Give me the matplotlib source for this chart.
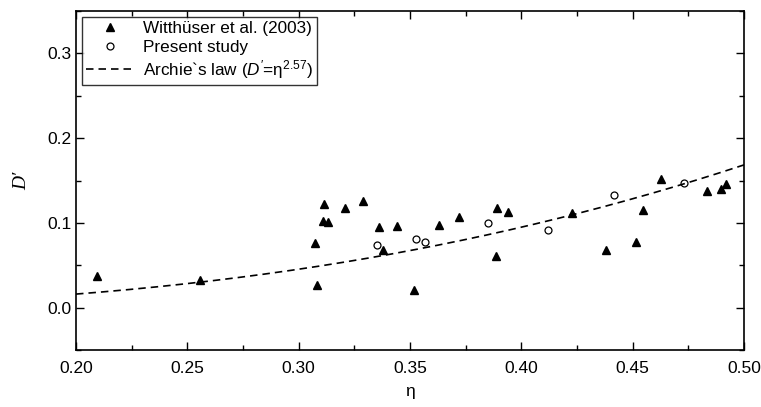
import numpy as np
import matplotlib
matplotlib.use("Agg")
import matplotlib.pyplot as plt
from matplotlib.ticker import MultipleLocator

# Witthüser et al. (2003)
w_eta = [0.2096, 0.2555, 0.3072, 0.3082, 0.3112, 0.3108, 0.3132, 0.3209, 0.3290,
         0.3359, 0.3380, 0.3440, 0.3519, 0.3630, 0.3720, 0.3889, 0.3887, 0.3940,
         0.4229, 0.4379, 0.4516, 0.4547, 0.4627, 0.4836, 0.4896, 0.4917]
w_D = [0.0368, 0.0330, 0.0765, 0.0266, 0.1223, 0.1019, 0.1007, 0.1176, 0.1254,
       0.0956, 0.0682, 0.0965, 0.0212, 0.0976, 0.1074, 0.1176, 0.0612, 0.1125,
       0.1118, 0.0682, 0.0776, 0.1156, 0.1513, 0.1372, 0.1400, 0.1462]

# Present study
p_eta = [0.3352, 0.3527, 0.3569, 0.3849, 0.4121, 0.4417, 0.4732]
p_D = [0.0741, 0.0807, 0.0772, 0.0995, 0.0917, 0.1325, 0.1474]

# Archie's law exponent
archie_m = 2.57
eta_line = np.linspace(0.20, 0.50, 200)

xticks = [0.20, 0.25, 0.30, 0.35, 0.40, 0.45, 0.50]
xticklabels = ["0.20", "0.25", "0.30", "0.35", "0.40", "0.45", "0.50"]
yticks = [0.0, 0.1, 0.2, 0.3]
yticklabels = ["0.0", "0.1", "0.2", "0.3"]

plt.rcParams['font.family'] = ['Liberation Sans', 'DejaVu Sans']
plt.rcParams['mathtext.fontset'] = 'custom'
plt.rcParams['mathtext.rm'] = 'Liberation Sans'
plt.rcParams['mathtext.it'] = 'Liberation Sans:italic'

fig = plt.figure(figsize=(7.61, 4.07), dpi=100)
ax = fig.add_axes([76/761, 57/407, (744-76)/761, (350-11)/407])

ax.plot(w_eta, w_D, linestyle='none', marker='^', color='black', markersize=6,
        label='Witthüser et al. (2003)')
ax.plot(p_eta, p_D, linestyle='none', marker='o', markerfacecolor='white',
        markeredgecolor='black', markeredgewidth=0.9, markersize=5,
        label='Present study')
ax.plot(eta_line, eta_line ** archie_m, linestyle=(0, (4.5, 3)), color='black',
        linewidth=1.2, label=r"Archie`s law ($D'$=η$^{2.57}$)")

ax.set_xlim(0.20, 0.50)
ax.set_ylim(-0.05, 0.35)
ax.set_xticks(xticks)
ax.set_xticklabels(xticklabels)
ax.set_yticks(yticks)
ax.set_yticklabels(yticklabels)
ax.xaxis.set_minor_locator(MultipleLocator(0.025))
ax.yaxis.set_minor_locator(MultipleLocator(0.05))
ax.tick_params(which='both', direction='in', top=True, right=True, labelsize=12.5, width=1)
ax.tick_params(which='major', length=6)
ax.tick_params(which='minor', length=3.5)
ax.tick_params(axis='x', pad=8)
for s in ax.spines.values():
    s.set_linewidth(1.2)

ax.set_xlabel('η', fontsize=12.5, labelpad=6)
ax.set_ylabel("D′", fontsize=14, family='Liberation Serif', style='italic', labelpad=12)

leg = ax.legend(loc='upper left', fontsize=12.3, frameon=True, fancybox=False,
                edgecolor='black', borderpad=0.25, labelspacing=0.2,
                handlelength=2.8, handletextpad=0.5, borderaxespad=0.35)
leg.get_frame().set_linewidth(1.0)

fig.savefig('out.png', dpi=100)
